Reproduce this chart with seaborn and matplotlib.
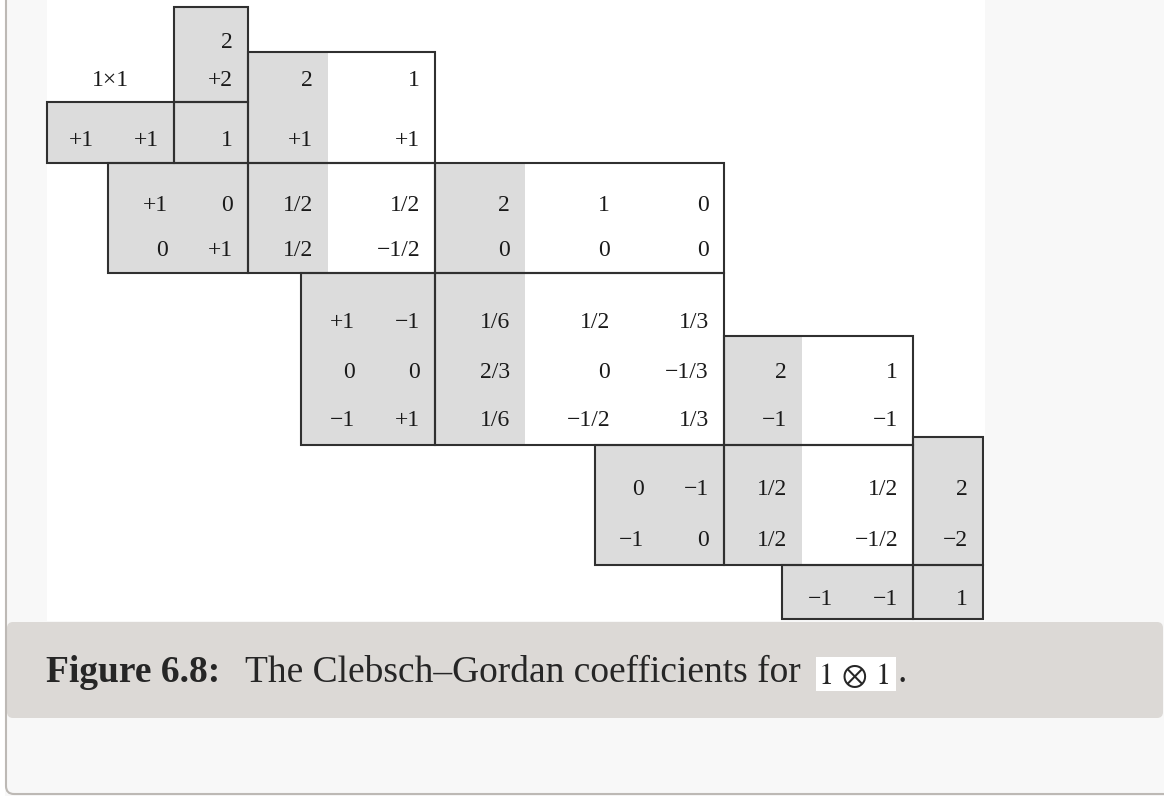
import matplotlib
matplotlib.use("Agg")
import matplotlib.pyplot as plt
from matplotlib.patches import Rectangle, FancyBboxPatch
import seaborn as sns

# Clebsch-Gordan table for 1 x 1, one block per total M
block_m = ["+2", "+1", "0", "−1", "−2"]
block_j = [["2"], ["2", "1"], ["2", "1", "0"], ["2", "1"], ["2"]]
block_m1m2 = [
    [("+1", "+1")],
    [("+1", "0"), ("0", "+1")],
    [("+1", "−1"), ("0", "0"), ("−1", "+1")],
    [("0", "−1"), ("−1", "0")],
    [("−1", "−1")],
]
block_coef = [
    [["1"]],
    [["1/2", "1/2"], ["1/2", "−1/2"]],
    [["1/6", "1/2", "1/3"], ["2/3", "0", "−1/3"], ["1/6", "−1/2", "1/3"]],
    [["1/2", "1/2"], ["1/2", "−1/2"]],
    [["1"]],
]
corner_label = "1×1"
caption_label = "Figure 6.8:"
caption_text = "The Clebsch–Gordan coefficients for"
caption_math = r"$1\,\otimes\,1$"

# layout in pixels (figure is 1164 x 796, y grows downwards)
row_y = [40, 78, 138, 203, 248, 320, 370, 418, 487, 538, 597]
first_row = [2, 3, 5, 8, 10]
mbox_x0 = [47, 108, 301, 595, 782]
col_x = [[174, 248], [248, 328, 435], [435, 525, 625, 724], [724, 802, 913], [913, 983]]
head_y0 = [7, 52, 163, 336, 437]
body_y = [(102, 163), (163, 273), (273, 445), (445, 565), (565, 619)]

GRAY = "#dcdcdc"
LINE = "#303030"
FS = 17

sns.set_theme(style="white")
plt.rcParams["font.family"] = ["Liberation Serif", "DejaVu Serif"]
plt.rcParams["mathtext.fontset"] = "stix"

fig = plt.figure(figsize=(11.64, 7.96), dpi=100, facecolor="#f8f8f8")
ax = fig.add_axes([0, 0, 1, 1])
ax.set_xlim(0, 1164)
ax.set_ylim(796, 0)
ax.axis("off")

# page background pieces
ax.add_patch(Rectangle((0, 0), 5, 796, fc="white", ec="none", zorder=0))
ax.add_patch(Rectangle((47, 0), 938, 621, fc="white", ec="none", zorder=0))
ax.add_patch(FancyBboxPatch((6, -40), 1200, 834, boxstyle="round,pad=0,rounding_size=8",
                            fc="none", ec="#bdb9b5", lw=1.5, zorder=5))


def box(x0, y0, x1, y1):
    ax.add_patch(Rectangle((x0, y0), x1 - x0, y1 - y0, fc="none", ec=LINE, lw=1.5, zorder=3))


def put(x, y, s, ha="right"):
    ax.text(x, y + 8, s, ha=ha, va="baseline", fontsize=FS, color="#1a1a1a", zorder=4)


for b in range(len(block_m)):
    xs = col_x[b]
    x0, x1 = xs[0], xs[-1]
    hy0 = head_y0[b]
    by0, by1 = body_y[b]

    # shaded J=2 column and m1 m2 box
    ax.add_patch(Rectangle((xs[0], hy0), xs[1] - xs[0], by1 - hy0, fc=GRAY, ec="none", zorder=1))
    ax.add_patch(Rectangle((mbox_x0[b], by0), x0 - mbox_x0[b], by1 - by0, fc=GRAY, ec="none", zorder=1))

    box(x0, hy0, x1, by0)
    box(x0, by0, x1, by1)
    box(mbox_x0[b], by0, x0, by1)

    r0 = first_row[b]
    for k, j in enumerate(block_j[b]):
        put(xs[k + 1] - 15, row_y[r0 - 2], j)
        put(xs[k + 1] - 15, row_y[r0 - 1], block_m[b])
    for i, (m1, m2) in enumerate(block_m1m2[b]):
        put(x0 - 80, row_y[r0 + i], m1)
        put(x0 - 15, row_y[r0 + i], m2)
        for k, c in enumerate(block_coef[b][i]):
            put(xs[k + 1] - 15, row_y[r0 + i], c)

put(110, row_y[1], corner_label, ha="center")

# caption
ax.add_patch(FancyBboxPatch((7, 622), 1156, 96, boxstyle="round,pad=0,rounding_size=6",
                            fc="#dcd9d6", ec="none", zorder=2))
ax.text(46, 682, caption_label, fontsize=27, fontweight="bold", va="baseline", zorder=4)
ax.text(245, 682, caption_text, fontsize=27, va="baseline", zorder=4)
ax.add_patch(Rectangle((816, 657), 80, 34, fc="white", ec="none", zorder=3))
ax.text(818, 684, caption_math, fontsize=22, va="baseline", zorder=4)
ax.text(897, 682, ".", fontsize=27, va="baseline", zorder=4)

fig.savefig("out.png", dpi=100, facecolor=fig.get_facecolor())
